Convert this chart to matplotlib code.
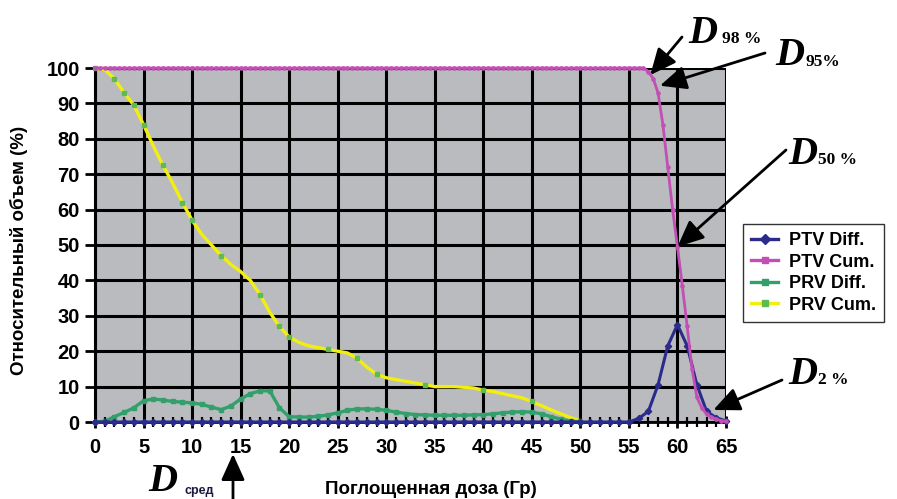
import numpy as np
import matplotlib
matplotlib.use("Agg")
import matplotlib.pyplot as plt
from matplotlib.lines import Line2D

plt.rcParams['font.family'] = ['Liberation Sans', 'DejaVu Sans']
plt.rcParams['font.weight'] = 'bold'

# ---- data -------------------------------------------------------------
# dose grids (Gy)
dose_1gy = list(range(0, 66))
dose_half = [i * 0.5 for i in range(0, 131)]
prv_dose = list(range(0, 51))

# PTV differential DVH (% volume per 1 Gy bin)
ptv_diff = [0.0] * 56 + [1.0, 3.0, 10.5, 21.5, 27.5, 21.5, 10.5, 3.0, 1.2, 0.3]

# PTV cumulative DVH (% volume), 0.5 Gy steps
ptv_cum = [100.0] * 114 + [99.0, 97.0, 93.0, 84.0, 72.0, 60.0, 49.5, 38.5,
                           27.0, 15.0, 7.0, 4.0, 2.2, 1.4, 0.8, 0.4, 0.2]

# PRV differential DVH (%)
prv_diff = [0.0, 0.2, 1.5, 2.7, 4.0, 6.0, 6.5, 6.2, 5.8, 5.6, 5.4, 5.0, 4.2,
            3.5, 4.5, 6.5, 8.0, 8.8, 8.8, 4.0, 1.5, 1.4, 1.4, 1.6, 2.0, 2.6,
            3.3, 3.7, 3.7, 3.6, 3.3, 2.8, 2.4, 2.1, 2.0, 1.9, 1.9, 1.9, 1.9,
            2.0, 2.1, 2.3, 2.6, 2.8, 2.9, 2.8, 2.3, 1.5, 0.8, 0.3, 0.0]

# PRV cumulative DVH (%)
prv_cum = [100.0, 99.5, 97.0, 93.0, 89.5, 84.0, 78.0, 72.5, 67.5, 62.0, 57.0,
           53.0, 50.0, 47.0, 44.5, 42.5, 40.0, 36.0, 31.0, 27.0, 24.0, 22.5,
           21.5, 21.0, 20.5, 20.0, 19.5, 18.0, 15.5, 13.5, 12.5, 12.0, 11.5,
           11.0, 10.5, 10.0, 10.0, 10.0, 9.8, 9.6, 9.0, 8.6, 8.0, 7.4, 6.8,
           5.8, 4.6, 3.4, 2.3, 1.2, 0.3]
prv_cum_marks = [0, 2, 3, 4, 5, 7, 9, 10, 13, 17, 19, 20, 24, 27, 29, 34, 40,
                 45, 50]

x_ticks = list(range(0, 70, 5))
y_ticks = list(range(0, 110, 10))

legend_labels = ["PTV Diff.", "PTV Cum.", "PRV Diff.", "PRV Cum."]

# ---- colours ----------------------------------------------------------
c_ptv_diff = '#2b2b8c'
c_ptv_cum = '#c24fb4'
c_prv_diff = '#33a06c'
c_prv_cum = '#f2ef10'
c_prv_mark = '#5fba56'
c_bg = '#b9bbbf'

W, H = 897, 499
fig = plt.figure(figsize=(W / 100, H / 100), dpi=100)
fig.patch.set_facecolor('white')


def fp(x, y):
    """figure-fraction coordinates from pixel position (top-left origin)"""
    return (x / W, 1 - y / H)


ax = fig.add_axes([95 / W, 1 - 422 / H, (726 - 95) / W, (422 - 68) / H])
ax.set_facecolor(c_bg)
ax.set_xlim(0, 65)
ax.set_ylim(0, 100)
ax.set_axisbelow(True)
ax.grid(True, color='black', lw=2.2)

for s in ['top', 'right']:
    ax.spines[s].set_visible(False)
ax.spines['left'].set_linewidth(2.2)
ax.spines['bottom'].set_linewidth(2.0)

ax.set_xticks(x_ticks)
ax.set_yticks(y_ticks)
ax.set_xticks(dose_1gy, minor=True)
ax.tick_params(axis='both', which='major', labelsize=14.5, width=2, length=7,
               color='black')
ax.tick_params(axis='x', which='major', direction='inout', length=9, pad=7)
ax.tick_params(axis='x', which='minor', direction='inout', length=7, width=1.6,
               color='black')
ax.tick_params(axis='y', which='major', direction='out', pad=4)
for lab in ax.get_xticklabels() + ax.get_yticklabels():
    lab.set_fontweight('bold')

# ---- series -----------------------------------------------------------
ax.plot(prv_dose, prv_cum, color=c_prv_cum, lw=2.4, zorder=3, clip_on=False,
        solid_joinstyle='round')
ax.plot([prv_dose[i] for i in prv_cum_marks], [prv_cum[i] for i in prv_cum_marks],
        ls='none', marker='s', ms=3.2, color=c_prv_mark, zorder=3, clip_on=False)
ax.plot(prv_dose, prv_diff, color=c_prv_diff, lw=2.4, marker='s', ms=3,
        zorder=4, clip_on=False, solid_joinstyle='round')
ax.plot(dose_1gy, ptv_diff, color=c_ptv_diff, lw=2.2, marker='D', ms=3.2,
        zorder=5, clip_on=False)
ax.plot(dose_half, ptv_cum, color=c_ptv_cum, lw=2.0, marker='o', ms=2.3,
        zorder=5, clip_on=False)

# ---- axis titles ------------------------------------------------------
fig.text(*fp(19, 250), "Относительный объем (%)", rotation=90, fontsize=13.5,
         fontweight='bold', ha='center', va='center')
fig.text(*fp(431, 489), "Поглощенная доза (Гр)", fontsize=13.5,
         fontweight='bold', ha='center', va='center')

# ---- legend -----------------------------------------------------------
handles = [
    Line2D([], [], color=c_ptv_diff, lw=2.4, marker='D', ms=5),
    Line2D([], [], color=c_ptv_cum, lw=2.4, marker='s', ms=5),
    Line2D([], [], color=c_prv_diff, lw=2.4, marker='s', ms=5),
    Line2D([], [], color=c_prv_cum, lw=2.4, marker='s', ms=5,
           markerfacecolor=c_prv_mark, markeredgecolor=c_prv_mark),
]
leg = fig.legend(handles, legend_labels, loc='upper left',
                 bbox_to_anchor=fp(743, 224), prop={'weight': 'bold', 'size': 13},
                 frameon=True, fancybox=False, edgecolor='black',
                 handlelength=1.5, handletextpad=0.6, labelspacing=0.25,
                 borderpad=0.45, borderaxespad=0)
leg.get_frame().set_linewidth(1.0)

# ---- dose markers -----------------------------------------------------
arrow_kw = dict(arrowstyle='-|>,head_length=0.8,head_width=0.36', color='black',
                lw=2.0, shrinkA=0, shrinkB=0, mutation_scale=20)
serif = ['Liberation Serif', 'DejaVu Serif']


def dose_label(x, y, sub, subdx, subdy):
    fig.text(*fp(x, y), "D", fontsize=29, fontweight='bold', style='italic',
             family=serif, ha='left', va='baseline')
    fig.text(*fp(x + subdx, y + subdy), sub, fontsize=12.5, fontweight='bold',
             family=serif, ha='left', va='baseline')


dose_label(688, 43, "98 %", 34, 0)
ax.annotate('', xy=(57.2, 98.0), xycoords='data', xytext=fp(682, 37),
            textcoords='figure fraction', arrowprops=arrow_kw)

dose_label(775, 65, "95%", 30, 1)
ax.annotate('', xy=(58.2, 95.0), xycoords='data', xytext=fp(765, 53),
            textcoords='figure fraction', arrowprops=arrow_kw)

dose_label(788, 164, "50 %", 30, 0)
ax.annotate('', xy=(60.0, 49.5), xycoords='data', xytext=fp(786, 150),
            textcoords='figure fraction', arrowprops=arrow_kw)

dose_label(788, 384, "2 %", 30, 0)
ax.annotate('', xy=(63.7, 3.4), xycoords='data', xytext=fp(782, 380),
            textcoords='figure fraction', arrowprops=arrow_kw)

fig.text(*fp(148, 491), "D", fontsize=29, fontweight='bold', style='italic',
         family=serif, ha='left', va='baseline')
fig.text(*fp(184, 494), "сред", fontsize=9, fontweight='bold', color='#1a1a40',
         ha='left', va='baseline')
ax.annotate('', xy=fp(233, 454), xycoords='figure fraction', xytext=fp(233, 499),
            textcoords='figure fraction', arrowprops=arrow_kw)

fig.savefig('out.png', dpi=100)
